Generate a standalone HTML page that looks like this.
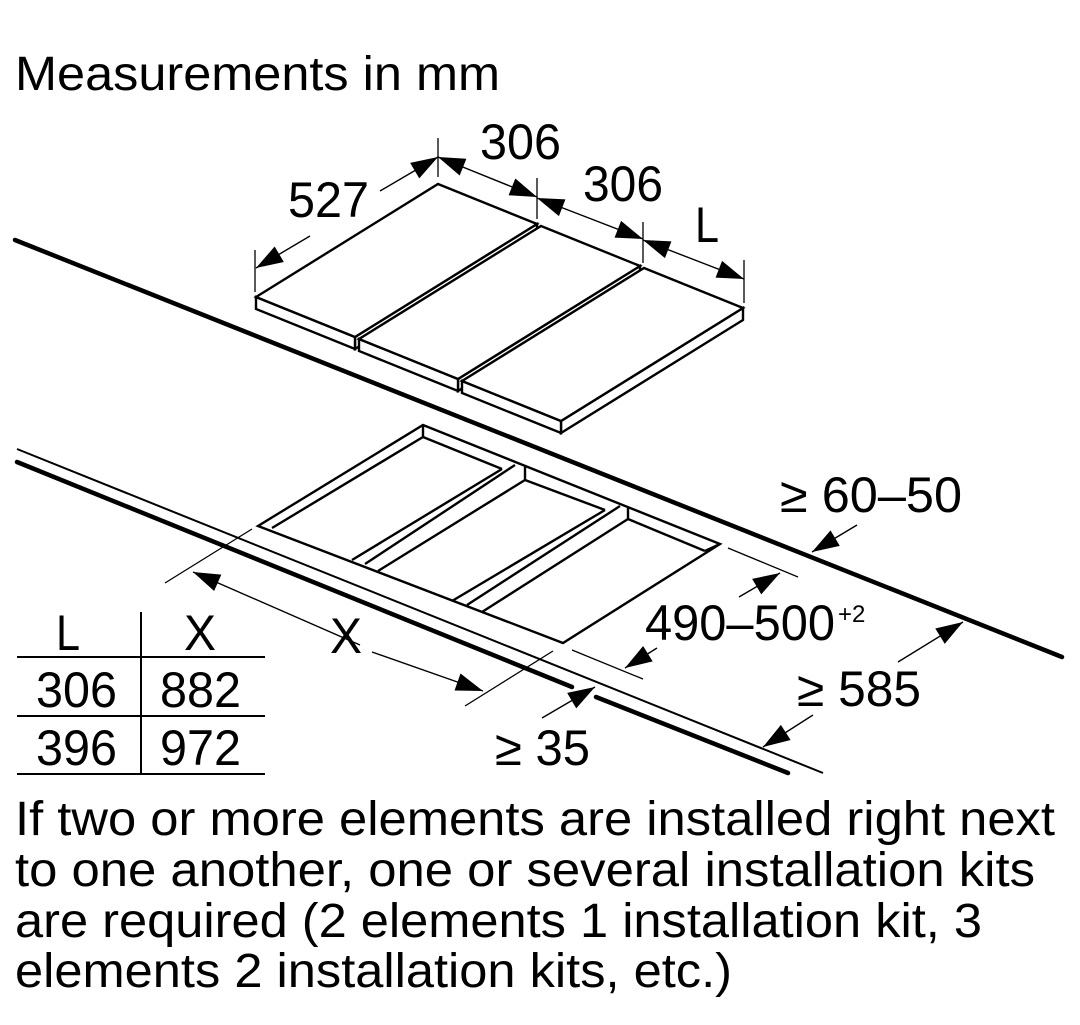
<!DOCTYPE html>
<html><head><meta charset="utf-8"><style>
html,body{margin:0;padding:0;background:#fff;}
svg{display:block;}
text{font-family:"Liberation Sans",Arial,sans-serif;fill:#000;}
</style></head><body>
<svg width="1080" height="1025" viewBox="0 0 1080 1025" xmlns="http://www.w3.org/2000/svg">
<defs>
<marker id="a" markerUnits="userSpaceOnUse" markerWidth="30" markerHeight="20" refX="27" refY="9" orient="auto-start-reverse" overflow="visible"><path d="M0,0 L27,9 L0,18 z" fill="#000"/></marker>
</defs>
<rect width="1080" height="1025" fill="#fff"/>
<text x="15" y="90" font-size="48" textLength="485" lengthAdjust="spacingAndGlyphs">Measurements in mm</text>

<line x1="15" y1="240" x2="1062" y2="657" stroke="#000" stroke-width="4.5" stroke-linecap="round"/>
<line x1="17" y1="449" x2="823" y2="773" stroke="#000" stroke-width="2"/>
<line x1="17" y1="462" x2="572" y2="687" stroke="#000" stroke-width="4.5" stroke-linecap="round"/>
<line x1="596" y1="697" x2="788" y2="773" stroke="#000" stroke-width="4.5" stroke-linecap="round"/>

<g fill="#fff" stroke="#000" stroke-width="2.4" stroke-linejoin="miter">
<polygon points="537,224 355,337 355,349 537,236"/>
<polygon points="256,297 355,337 355,349 256,309"/>
<polygon points="438,184 537,224 355,337 256,297"/>
<polygon points="640,266 458,379 458,391 640,278"/>
<polygon points="359,339 458,379 458,391 359,351"/>
<polygon points="541,226 640,266 458,379 359,339"/>
<polygon points="743,308 561,421 561,433 743,320"/>
<polygon points="462,381 561,421 561,433 462,393"/>
<polygon points="644,268 743,308 561,421 462,381"/>
</g>

<g fill="none" stroke="#000" stroke-width="2.4">
<polygon points="423,425 720,544 563,643 258,526"/>
<polyline points="423,425 423,437 272,528"/>
<line x1="423" y1="437" x2="502" y2="469"/>
<line x1="502" y1="469" x2="352" y2="560"/>
<line x1="515" y1="465" x2="365" y2="564"/>
<polyline points="525,467 525,480 378,571"/>
<line x1="525" y1="480" x2="605" y2="510"/>
<line x1="605" y1="510" x2="452" y2="601"/>
<line x1="620" y1="506" x2="467" y2="605"/>
<polyline points="628,508 628,519 482,612"/>
<line x1="628" y1="519" x2="705" y2="551"/>
<line x1="705" y1="551" x2="720" y2="544"/>
</g>

<g stroke="#000" stroke-width="1.3" fill="none">
<line x1="438" y1="138" x2="438" y2="177"/>
<line x1="537" y1="178" x2="537" y2="219"/>
<line x1="643" y1="222" x2="643" y2="263"/>
<line x1="744" y1="260" x2="744" y2="303"/>
<line x1="255" y1="250" x2="255" y2="292"/>
<line x1="165" y1="583" x2="252" y2="529"/>
<line x1="553" y1="651" x2="465" y2="706"/>
<line x1="728" y1="548" x2="798" y2="577"/>
<line x1="572" y1="650" x2="643" y2="679"/>
</g>

<g stroke="#000" stroke-width="1.4" fill="none">
<line x1="438" y1="157" x2="537" y2="197" marker-start="url(#a)" marker-end="url(#a)"/>
<line x1="537" y1="198" x2="643" y2="239" marker-start="url(#a)" marker-end="url(#a)"/>
<line x1="643" y1="240" x2="744" y2="279" marker-start="url(#a)" marker-end="url(#a)"/>
<line x1="380" y1="191" x2="438" y2="157" marker-end="url(#a)"/>
<line x1="310" y1="236" x2="256" y2="268" marker-end="url(#a)"/>
<line x1="360" y1="645" x2="193" y2="572" marker-end="url(#a)"/>
<line x1="372" y1="652" x2="483" y2="691" marker-end="url(#a)"/>
<line x1="739" y1="597" x2="780" y2="573" marker-end="url(#a)"/>
<line x1="657" y1="648" x2="625" y2="668" marker-end="url(#a)"/>
<line x1="857" y1="525" x2="812" y2="552" marker-end="url(#a)"/>
<line x1="898" y1="662" x2="963" y2="622" marker-end="url(#a)"/>
<line x1="813" y1="715" x2="763" y2="747" marker-end="url(#a)"/>
<line x1="542" y1="718" x2="595" y2="687" marker-end="url(#a)"/>
</g>

<g font-size="50">
<text x="480" y="159" textLength="81" lengthAdjust="spacingAndGlyphs">306</text>
<text x="583" y="201" textLength="80" lengthAdjust="spacingAndGlyphs">306</text>
<text x="288" y="217" textLength="81" lengthAdjust="spacingAndGlyphs">527</text>
<text x="695" y="242" textLength="24" lengthAdjust="spacingAndGlyphs">L</text>
<text x="330" y="653" textLength="32" lengthAdjust="spacingAndGlyphs">X</text>
<text x="780" y="512" textLength="182" lengthAdjust="spacingAndGlyphs">≥ 60–50</text>
<text x="645" y="640" textLength="190" lengthAdjust="spacingAndGlyphs">490–500</text>
<text x="838" y="622" font-size="24">+2</text>
<text x="797" y="706" textLength="124" lengthAdjust="spacingAndGlyphs">≥ 585</text>
<text x="495" y="765" textLength="95" lengthAdjust="spacingAndGlyphs">≥ 35</text>
</g>

<g stroke="#000" stroke-width="2">
<line x1="141" y1="612" x2="141" y2="775"/>
<line x1="17" y1="657" x2="265" y2="657"/>
<line x1="17" y1="716" x2="265" y2="716"/>
<line x1="17" y1="774" x2="265" y2="774"/>
</g>
<g font-size="50">
<text x="56" y="650" textLength="24" lengthAdjust="spacingAndGlyphs">L</text>
<text x="184" y="650" textLength="32" lengthAdjust="spacingAndGlyphs">X</text>
<text x="36" y="707" textLength="81" lengthAdjust="spacingAndGlyphs">306</text>
<text x="160" y="707" textLength="81" lengthAdjust="spacingAndGlyphs">882</text>
<text x="36" y="765" textLength="81" lengthAdjust="spacingAndGlyphs">396</text>
<text x="160" y="765" textLength="81" lengthAdjust="spacingAndGlyphs">972</text>
</g>

<g font-size="48">
<text x="15" y="835" textLength="1040" lengthAdjust="spacingAndGlyphs">If two or more elements are installed right next</text>
<text x="15" y="886" textLength="1020" lengthAdjust="spacingAndGlyphs">to one another, one or several installation kits</text>
<text x="15" y="937" textLength="967" lengthAdjust="spacingAndGlyphs">are required (2 elements 1 installation kit, 3</text>
<text x="15" y="987" textLength="717" lengthAdjust="spacingAndGlyphs">elements 2 installation kits, etc.)</text>
</g>
</svg>
</body></html>
